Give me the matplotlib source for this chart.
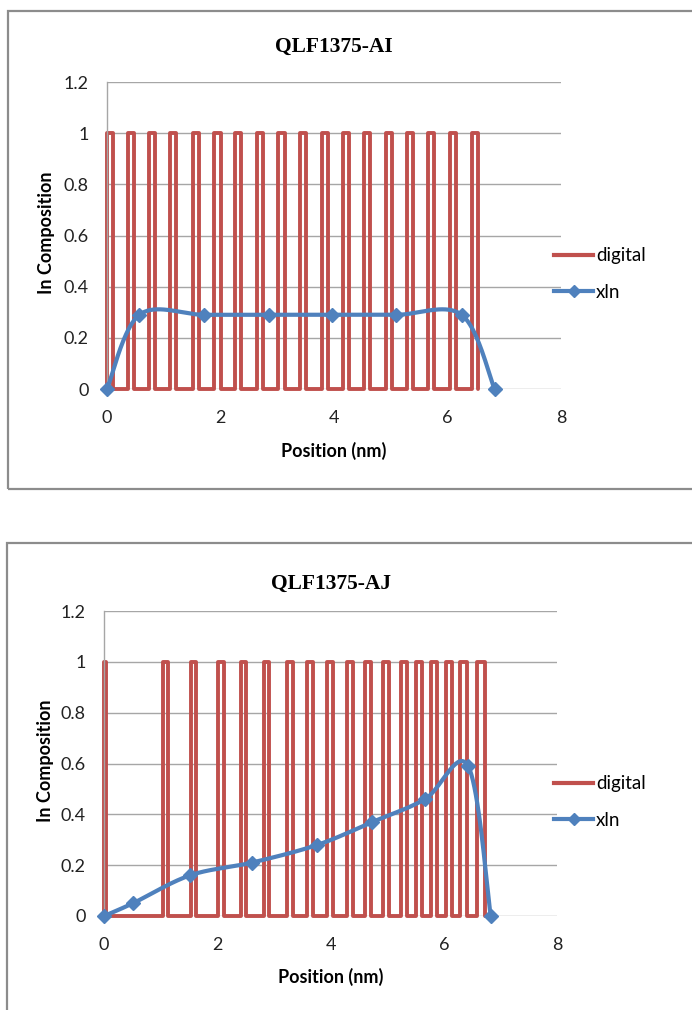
import numpy as np
import matplotlib
matplotlib.use("Agg")
import matplotlib.pyplot as plt
from matplotlib.patches import Rectangle
from matplotlib.lines import Line2D

# ---- data -------------------------------------------------------------
# QLF1375-AI : In-rich layers (start, end) in nm
ai_layer_start = [0.00, 0.37, 0.74, 1.11, 1.51, 1.89, 2.26, 2.64, 3.02,
                  3.40, 3.78, 4.16, 4.53, 4.92, 5.28, 5.66, 6.04, 6.43]
ai_layer_end = [0.11, 0.48, 0.85, 1.22, 1.62, 2.00, 2.37, 2.75, 3.13,
                3.51, 3.89, 4.27, 4.64, 5.03, 5.39, 5.77, 6.15, 6.54]
ai_pos = [0.00, 0.57, 1.71, 2.85, 3.97, 5.10, 6.25, 6.83]
ai_xin = [0.00, 0.29, 0.29, 0.29, 0.29, 0.29, 0.29, 0.00]

# QLF1375-AJ : In-rich layers (start, end) in nm
aj_layer_start = [0.00, 1.04, 1.54, 2.01, 2.42, 2.83, 3.23, 3.59, 3.94,
                  4.29, 4.61, 4.93, 5.25, 5.51, 5.78, 6.04, 6.29, 6.59]
aj_layer_end = [0.04, 1.13, 1.63, 2.12, 2.51, 2.92, 3.34, 3.69, 4.05,
                4.40, 4.72, 5.04, 5.35, 5.62, 5.88, 6.15, 6.41, 6.73]
aj_pos = [0.00, 0.51, 1.52, 2.61, 3.77, 4.74, 5.67, 6.43, 6.83]
aj_xin = [0.00, 0.05, 0.16, 0.21, 0.28, 0.37, 0.46, 0.59, 0.00]

titles = ["QLF1375-AI", "QLF1375-AJ"]
y_ticks = [0, 0.2, 0.4, 0.6, 0.8, 1, 1.2]
y_tick_labels = ["0", "0.2", "0.4", "0.6", "0.8", "1", "1.2"]
x_ticks = [0, 2, 4, 6, 8]
x_tick_labels = ["0", "2", "4", "6", "8"]

RED = "#C0504D"
BLUE = "#4F81BD"
GRID = "#A6A6A6"
SANS = ["Lato", "DejaVu Sans"]
SERIF = ["Liberation Serif", "DejaVu Serif"]


def digital_profile(starts, ends):
    """Square-wave outline: 1 inside each layer, 0 between them."""
    xs, ys = [], []
    for s, e in zip(starts, ends):
        xs += [s, s, e, e]
        ys += [0, 1, 1, 0]
    return np.array(xs), np.array(ys)


def smooth_curve(x, y, n=40):
    """Bezier smoothing through every point (Catmull-Rom style)."""
    p = np.column_stack([x, y]).astype(float)
    pts = [p[0]]
    m = len(p)
    for i in range(m - 1):
        p0 = p[i - 1] if i > 0 else p[i]
        p1, p2 = p[i], p[i + 1]
        p3 = p[i + 2] if i + 2 < m else p[i + 1]
        c1 = p1 + (p2 - p0) / 6.0
        c2 = p2 - (p3 - p1) / 6.0
        t = np.linspace(0, 1, n)[1:, None]
        seg = ((1 - t) ** 3) * p1 + 3 * ((1 - t) ** 2) * t * c1 \
            + 3 * (1 - t) * t ** 2 * c2 + t ** 3 * p2
        pts.extend(seg)
    pts = np.array(pts)
    return pts[:, 0], pts[:, 1]


W, H = 692, 1010
fig = plt.figure(figsize=(W / 100, H / 100), dpi=100)
fig.patch.set_facecolor("white")


def fx(px):
    return px / W


def fy(py):
    return 1 - py / H


# chart-area borders
for (x0, y0, x1, y1) in [(8, 11, 700, 489), (7, 543, 700, 1020)]:
    fig.add_artist(Rectangle((fx(x0), fy(y1)), fx(x1 - x0), (y1 - y0) / H,
                             transform=fig.transFigure, fill=False,
                             edgecolor="#8C8C8C", linewidth=1.6))

panels = [
    dict(box=(107, 82, 561, 389), starts=ai_layer_start, ends=ai_layer_end,
         pos=ai_pos, xin=ai_xin, title_y=47, ylabel_x=47, xlabel_y=451,
         legend_y=274),
    dict(box=(104, 611, 557, 916), starts=aj_layer_start, ends=aj_layer_end,
         pos=aj_pos, xin=aj_xin, title_y=584, ylabel_x=45, xlabel_y=977,
         legend_y=802),
]

for k, pnl in enumerate(panels):
    l, t, r, b = pnl["box"]
    ax = fig.add_axes([fx(l), fy(b), fx(r - l), (b - t) / H])
    ax.set_xlim(0, 8)
    ax.set_ylim(0, 1.2)
    for yv in y_ticks:
        ax.axhline(yv, color=GRID, lw=1.0, zorder=0)
    for side in ["top", "right", "bottom"]:
        ax.spines[side].set_visible(False)
    ax.spines["left"].set_color(GRID)
    ax.spines["left"].set_linewidth(1.0)
    ax.set_yticks(y_ticks)
    ax.set_yticklabels(y_tick_labels, family=SANS, fontsize=13)
    ax.set_xticks(x_ticks)
    ax.set_xticklabels(x_tick_labels, family=SANS, fontsize=13)
    ax.tick_params(axis="both", length=0, colors="#222222")
    ax.tick_params(axis="y", pad=13)
    ax.tick_params(axis="x", pad=15)

    dx, dy = digital_profile(pnl["starts"], pnl["ends"])
    ax.plot(dx, dy, color=RED, lw=2.8, solid_joinstyle="round",
            solid_capstyle="round", zorder=2, clip_on=False)

    sx, sy = smooth_curve(pnl["pos"], pnl["xin"])
    ax.plot(sx, sy, color=BLUE, lw=3.0, solid_capstyle="round", zorder=3,
            clip_on=False)
    ax.plot(pnl["pos"], pnl["xin"], linestyle="none", marker="D",
            markersize=7, color=BLUE, zorder=4, clip_on=False)

    fig.text(fx((l + r) / 2), fy(pnl["title_y"]), titles[k], family=SERIF,
             fontweight="bold", fontsize=15.5, ha="center", va="center")
    fig.text(fx(pnl["ylabel_x"]), fy((t + b) / 2 - 3), "In Composition",
             family=SANS, fontweight="bold", fontsize=13, rotation=90,
             ha="center", va="center")
    fig.text(fx((l + r) / 2), fy(pnl["xlabel_y"]), "Position (nm)",
             family=SANS, fontweight="bold", fontsize=13, ha="center",
             va="center")

    handles = [
        Line2D([], [], color=RED, lw=3.0),
        Line2D([], [], color=BLUE, lw=3.0, marker="D", markersize=6),
    ]
    fig.legend(handles, ["digital", "xln"], loc="center left",
               bbox_to_anchor=(fx(554), fy(pnl["legend_y"])),
               frameon=False, prop={"family": SANS, "size": 13.5},
               handlelength=2.1, handletextpad=0.15, labelspacing=1.05,
               borderpad=0, borderaxespad=0)

fig.savefig("out.png", dpi=100, facecolor="white")
